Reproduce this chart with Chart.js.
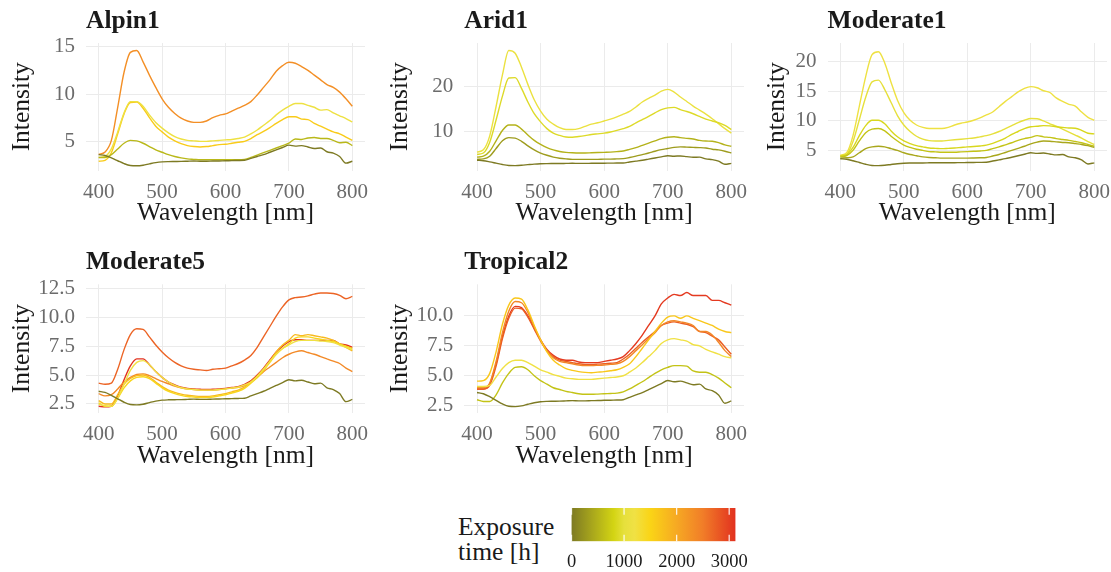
<!DOCTYPE html>
<html>
<head>
<meta charset="utf-8">
<title>Spectra by exposure time</title>
<script src="https://cdn.jsdelivr.net/npm/chart.js@4.4.1/dist/chart.umd.min.js"></script>
<style>
  html, body { margin: 0; padding: 0; background: #fff; }
  body { position: relative; width: 1111px; height: 572px; overflow: hidden; }
  canvas { position: absolute; }
  #legendTitle {
    position: absolute; left: 458px; top: 514px;
    font: 25.5px "Liberation Serif", serif; line-height: 25px; color: #1a1a1a;
  }
</style>
</head>
<body>
<div id="legendTitle">Exposure<br>time [h]</div>
<script>
// wavelength grid shared by every spectrum (nm)
const wavelengths = [400, 410, 420, 430, 440, 450, 460, 470, 480, 490,
  500, 510, 520, 530, 540, 550, 560, 570, 580, 590,
  600, 610, 620, 630, 640, 650, 660, 670, 680, 690,
  700, 710, 720, 730, 740, 750, 760, 770, 780, 790, 800];
const wavelengthTicks = [400, 500, 600, 700, 800];

// unexposed spectrum (0 h), identical in every panel
const baseline = [3.6, 3.5, 3.25, 2.95, 2.65, 2.45, 2.42, 2.48, 2.62, 2.75,
  2.83, 2.86, 2.87, 2.88, 2.9, 2.92, 2.9, 2.9, 2.92, 2.93,
  2.95, 2.96, 2.98, 3.0, 3.2, 3.4, 3.6, 3.85, 4.1, 4.35,
  4.6, 4.5, 4.55, 4.4, 4.25, 4.3, 3.9, 3.75, 3.4, 2.7, 2.9];

// Alpin1
const alpin1Hours = [0, 550, 1150, 1600, 2300];
const alpin1Curves = [baseline,
  [3.3, 3.3, 3.6, 4.2, 4.8, 5.1, 5.05, 4.8, 4.45, 4.1,
   3.85, 3.6, 3.4, 3.25, 3.15, 3.1, 3.05, 3.05, 3.05, 3.05,
   3.05, 3.05, 3.05, 3.1, 3.3, 3.55, 3.8, 4.05, 4.3, 4.55,
   4.8, 5.25, 5.2, 5.35, 5.4, 5.3, 5.3, 5.1, 4.85, 4.9, 4.55],
  [3.3, 3.4, 4.2, 6.0, 8.0, 9.2, 9.2, 8.7, 7.8, 7.0,
   6.4, 5.9, 5.5, 5.25, 5.1, 5.05, 5.0, 5.0, 5.05, 5.1,
   5.15, 5.2, 5.3, 5.45, 5.8, 6.2, 6.7, 7.2, 7.8, 8.3,
   8.7, 9.0, 9.0, 8.8, 8.6, 8.3, 8.35, 8.0, 7.7, 7.4, 7.05],
  [2.9, 3.0, 3.8, 5.8, 7.9, 9.1, 9.15, 8.5, 7.5, 6.6,
   6.0, 5.45, 5.05, 4.75, 4.55, 4.45, 4.4, 4.45, 4.55, 4.65,
   4.7, 4.8, 4.9, 5.0, 5.3, 5.7, 6.05, 6.45, 6.9, 7.3,
   7.6, 7.6, 7.35, 7.3, 6.9, 6.6, 6.3, 6.0, 5.8, 5.45, 5.1],
  [3.62, 3.87, 5.1, 8.6, 12.3, 14.4, 14.6, 13.4, 12.0, 10.7,
   9.5, 8.6, 7.95, 7.45, 7.15, 7.0, 7.0, 7.15, 7.5, 7.75,
   7.9, 8.2, 8.5, 8.8, 9.2, 9.9, 10.7, 11.5, 12.4, 13.0,
   13.35, 13.25, 12.9, 12.5, 12.0, 11.5, 11.0, 10.7, 10.2, 9.5, 8.7]];

// Arid1
const arid1Hours = [0, 300, 500, 900, 1100];
const arid1Curves = [baseline,
  [3.8, 3.9, 4.5, 6.2, 7.9, 8.6, 8.5, 7.8, 6.8, 5.9,
   5.2, 4.7, 4.3, 4.05, 3.9, 3.8, 3.8, 3.8, 3.8, 3.8,
   3.85, 3.85, 3.9, 3.95, 4.2, 4.5, 4.85, 5.2, 5.6, 5.95,
   6.2, 6.45, 6.55, 6.5, 6.45, 6.4, 6.3, 6.05, 5.9, 5.6, 5.2],
  [4.3, 4.5, 5.6, 7.9, 10.2, 11.4, 11.4, 10.5, 9.2, 8.0,
   7.1, 6.4, 5.9, 5.55, 5.35, 5.25, 5.2, 5.2, 5.25, 5.3,
   5.35, 5.4, 5.5, 5.65, 6.0, 6.4, 6.9, 7.4, 7.9, 8.4,
   8.7, 8.8, 8.6, 8.45, 8.3, 8.0, 7.85, 7.8, 7.5, 7.0, 6.7],
  [4.9, 5.2, 7.6, 12.5, 17.8, 21.8, 21.9, 19.5, 16.5, 13.9,
   12.1, 10.6, 9.6, 9.1, 8.75, 8.7, 8.85, 9.05, 9.3, 9.45,
   9.6, 9.85, 10.2, 10.6, 11.1, 11.9, 12.6, 13.3, 14.1, 14.8,
   15.2, 15.3, 14.8, 14.4, 13.9, 13.3, 12.7, 12.3, 11.9, 11.3, 10.4],
  [5.4, 5.9, 9.0, 15.5, 22.5, 27.9, 27.3, 24.2, 20.4, 17.0,
   14.5, 12.7, 11.6, 10.8, 10.4, 10.4, 10.6, 11.1, 11.6, 11.9,
   12.3, 12.7, 13.2, 13.8, 14.4, 15.4, 16.5, 17.3, 18.0, 18.9,
   19.3, 18.7, 17.6, 16.6, 15.6, 14.7, 13.8, 12.8, 11.7, 10.6, 9.6]];

// Moderate1
const moderate1Hours = [0, 400, 650, 850, 1000, 1150];
const moderate1Curves = [baseline,
  [3.7, 3.75, 3.9, 4.6, 5.3, 5.6, 5.7, 5.6, 5.3, 5.0,
   4.6, 4.3, 4.1, 3.9, 3.8, 3.75, 3.7, 3.7, 3.7, 3.7,
   3.7, 3.72, 3.75, 3.8, 4.05, 4.3, 4.65, 5.0, 5.35, 5.7,
   6.1, 6.4, 6.6, 6.55, 6.45, 6.35, 6.3, 6.15, 6.0, 5.8, 5.5],
  [3.9, 4.1, 5.0, 6.6, 8.0, 8.6, 8.7, 8.3, 7.4, 6.6,
   5.9, 5.5, 5.2, 5.0, 4.8, 4.75, 4.7, 4.7, 4.7, 4.75,
   4.8, 4.85, 4.9, 5.0, 5.3, 5.6, 5.95, 6.3, 6.7, 7.0,
   7.2, 7.5, 7.3, 7.2, 7.0, 6.85, 6.7, 6.5, 6.3, 6.0, 5.7],
  [4.1, 4.3, 5.5, 7.5, 9.2, 10.1, 10.1, 9.5, 8.3, 7.3,
   6.6, 6.15, 5.8, 5.6, 5.4, 5.35, 5.3, 5.35, 5.4, 5.5,
   5.6, 5.65, 5.75, 5.9, 6.2, 6.6, 7.1, 7.7, 8.2, 8.7,
   9.0, 9.1, 9.2, 9.15, 9.0, 8.9, 8.8, 8.75, 8.4, 7.9, 7.8],
  [4.0, 4.3, 6.5, 10.2, 14.0, 16.6, 16.9, 15.3, 13.1, 10.9,
   9.3, 8.2, 7.4, 6.9, 6.65, 6.6, 6.6, 6.7, 6.8, 6.9,
   7.0, 7.1, 7.3, 7.5, 7.8, 8.2, 8.7, 9.2, 9.7, 10.1,
   10.4, 10.35, 10.0, 9.5, 9.1, 8.6, 8.1, 7.6, 7.1, 6.5, 6.0],
  [4.2, 4.6, 7.5, 12.5, 17.5, 21.2, 21.7, 19.8, 16.5, 13.5,
   11.4, 10.1, 9.3, 8.9, 8.7, 8.7, 8.7, 8.9, 9.3, 9.6,
   9.8, 10.1, 10.5, 11.0, 11.5, 12.4, 13.3, 14.1, 14.9, 15.5,
   15.8, 15.6, 15.1, 14.8, 13.9, 13.3, 12.8, 12.5, 11.5, 10.6, 10.1]];

// Moderate5
const moderate5Hours = [0, 1200, 1450, 1800, 2350, 2700, 3100];
const moderate5Curves = [baseline,
  [2.5, 2.35, 2.3, 3.0, 4.2, 5.4, 6.1, 6.25, 5.9, 5.3,
   4.8, 4.4, 4.1, 3.9, 3.8, 3.75, 3.7, 3.7, 3.7, 3.75,
   3.8, 3.88, 3.95, 4.15, 4.4, 4.9, 5.5, 6.2, 6.8, 7.3,
   7.6, 7.9, 8.0, 8.0, 8.0, 7.95, 7.9, 7.8, 7.6, 7.4, 7.2],
  [2.6, 2.3, 2.3, 3.0, 3.9, 4.5, 4.8, 4.85, 4.7, 4.3,
   3.9, 3.6, 3.4, 3.25, 3.15, 3.1, 3.05, 3.05, 3.1, 3.2,
   3.3, 3.45, 3.6, 3.85, 4.3, 4.8, 5.4, 6.1, 6.8, 7.3,
   7.7, 8.2, 8.3, 8.3, 8.2, 8.1, 8.0, 7.9, 7.7, 7.5, 7.3],
  [2.8, 2.5, 2.5, 3.3, 4.2, 4.7, 4.95, 5.0, 4.8, 4.4,
   4.0, 3.7, 3.5, 3.35, 3.25, 3.2, 3.15, 3.15, 3.2, 3.3,
   3.4, 3.55, 3.7, 3.95, 4.4, 4.9, 5.5, 6.2, 7.0, 7.6,
   8.0, 8.5, 8.4, 8.5, 8.4, 8.3, 8.2, 8.0, 7.7, 7.4, 7.1],
  [3.4, 3.2, 3.3, 3.8, 4.4, 4.8, 5.05, 5.1, 4.95, 4.7,
   4.45, 4.25, 4.05, 3.9, 3.8, 3.75, 3.7, 3.7, 3.7, 3.75,
   3.8, 3.88, 3.95, 4.1, 4.4, 4.8, 5.3, 5.7, 6.1, 6.5,
   6.8, 7.0, 7.1, 6.95, 6.8, 6.6, 6.4, 6.2, 6.0, 5.6, 5.3],
  [4.3, 4.2, 4.3, 5.5, 7.2, 8.5, 9.0, 8.95, 8.3, 7.6,
   7.0, 6.5, 6.1, 5.8, 5.6, 5.5, 5.45, 5.4, 5.5, 5.55,
   5.6, 5.8, 6.0, 6.3, 6.7, 7.4, 8.3, 9.2, 10.1, 10.9,
   11.5, 11.7, 11.75, 11.85, 12.0, 12.1, 12.1, 12.05, 11.9, 11.6, 11.8],
  [2.3, 2.25, 2.3, 3.2, 4.6, 5.8, 6.4, 6.4, 5.9, 5.3,
   4.8, 4.4, 4.15, 3.95, 3.85, 3.8, 3.77, 3.75, 3.78, 3.8,
   3.85, 3.92, 4.0, 4.2, 4.5, 5.0, 5.6, 6.3, 7.0, 7.5,
   7.9, 8.05, 8.05, 8.0, 8.0, 8.0, 8.0, 8.0, 7.7, 7.6, 7.4]];

// Tropical2
const tropical2Hours = [0, 650, 1200, 1650, 2400, 2750, 3050];
const tropical2Curves = [baseline,
  [3.0, 2.85, 2.85, 3.4, 4.4, 5.2, 5.7, 5.75, 5.5, 5.0,
   4.6, 4.3, 4.0, 3.85, 3.7, 3.6, 3.5, 3.45, 3.45, 3.47,
   3.5, 3.52, 3.55, 3.65, 3.9, 4.2, 4.5, 4.85, 5.2, 5.5,
   5.7, 5.85, 5.85, 5.8, 5.4, 5.3, 5.3, 5.1, 4.8, 4.4, 4.0],
  [4.1, 4.1, 4.2, 4.9, 5.6, 6.1, 6.3, 6.3, 6.1, 5.8,
   5.5, 5.3, 5.1, 4.95, 4.8, 4.75, 4.7, 4.7, 4.7, 4.75,
   4.8, 4.85, 4.9, 5.0, 5.3, 5.65, 6.1, 6.6, 7.1, 7.7,
   8.0, 8.1, 8.0, 7.9, 7.6, 7.5, 7.2, 7.0, 6.8, 6.6, 6.5],
  [4.55, 4.6, 5.2, 7.0, 9.3, 10.9, 11.5, 11.4, 10.5, 9.2,
   8.0, 7.0, 6.3, 5.9, 5.6, 5.45, 5.35, 5.28, 5.25, 5.3,
   5.35, 5.42, 5.5, 5.7, 6.0, 6.6, 7.3, 8.0, 8.7, 9.4,
   9.9, 10.0, 9.8, 10.0, 9.8, 9.6, 9.4, 9.2, 8.9, 8.7, 8.6],
  [4.0, 4.0, 4.4, 6.2, 8.6, 10.4, 11.2, 11.1, 10.3, 9.1,
   8.0, 7.1, 6.5, 6.2, 6.1, 6.0, 5.9, 5.85, 5.85, 5.87,
   5.9, 5.95, 6.0, 6.2, 6.6, 7.1, 7.6, 8.1, 8.6, 9.2,
   9.5, 9.6, 9.5, 9.4, 9.2, 8.7, 8.7, 8.4, 7.8, 7.1, 6.6],
  [3.9, 3.9, 4.2, 5.8, 8.1, 9.8, 10.65, 10.6, 9.9, 8.9,
   7.9, 7.1, 6.6, 6.3, 6.2, 6.1, 6.0, 5.95, 5.95, 5.97,
   6.0, 6.05, 6.1, 6.4, 6.8, 7.3, 7.8, 8.25, 8.7, 9.2,
   9.4, 9.5, 9.4, 9.3, 9.1, 8.7, 8.6, 8.3, 8.0, 7.4, 6.8],
  [3.9, 3.9, 4.3, 6.0, 8.3, 10.0, 10.8, 10.7, 10.0, 9.0,
   8.0, 7.2, 6.7, 6.4, 6.3, 6.3, 6.15, 6.1, 6.1, 6.1,
   6.2, 6.3, 6.4, 6.6, 7.1, 7.7, 8.4, 9.2, 10.0, 11.0,
   11.5, 11.8, 11.7, 11.95, 11.7, 11.7, 11.7, 11.3, 11.3, 11.1, 10.9]];

// colour scale for exposure time
const exposureStops = [0, 400, 800, 1000, 1200, 1500, 2000, 2500, 3120];
const exposureColors = ['#7d7a23', '#a9a71c', '#d3d413', '#e6e03c', '#f0e144',
  '#fad416', '#f6a923', '#f17d28', '#e2311f'];
const exposureTicks = [0, 1000, 2000, 3000];

const serif = "'Liberation Serif', serif";
const tickFont = { family: serif, size: 21 };
const titleFont = { family: serif, size: 25.5 };
const tickGrey = '#6b6b6b';
const ink = '#1a1a1a';

function hexToRgb(h) {
  const n = parseInt(h.slice(1), 16);
  return [n >> 16, (n >> 8) & 255, n & 255];
}

function exposureColor(hours) {
  for (let i = 1; i < exposureStops.length; i++) {
    if (hours <= exposureStops[i]) {
      const t = (hours - exposureStops[i - 1]) / (exposureStops[i] - exposureStops[i - 1]);
      const a = hexToRgb(exposureColors[i - 1]);
      const b = hexToRgb(exposureColors[i]);
      return `rgb(${a.map((c, k) => Math.round(c + (b[k] - c) * t)).join(',')})`;
    }
  }
  return exposureColors[exposureColors.length - 1];
}

// grid of panels: canvas origin and plot area edges in page pixels
const cols = [
  { left: 7, plotL: 86, plotR: 365 },
  { left: 385, plotL: 464.3, plotR: 743.7 },
  { left: 762, plotL: 827.6, plotR: 1106.7 }
];
const rows = [
  { top: 0, plotT: 43, plotB: 170.5, bottom: 240 },
  { top: 241, plotT: 284.3, plotB: 413, bottom: 483 }
];

const panels = [
  { title: 'Alpin1', col: 0, row: 0, hours: alpin1Hours, curves: alpin1Curves, yMin: 1.92, yMax: 15.39, yTicks: [5, 10, 15], dec: 0 },
  { title: 'Arid1', col: 1, row: 0, hours: arid1Hours, curves: arid1Curves, yMin: 1.33, yMax: 29.56, yTicks: [10, 20], dec: 0 },
  { title: 'Moderate1', col: 2, row: 0, hours: moderate1Hours, curves: moderate1Curves, yMin: 1.6, yMax: 23.18, yTicks: [5, 10, 15, 20], dec: 0 },
  { title: 'Moderate5', col: 0, row: 1, hours: moderate5Hours, curves: moderate5Curves, yMin: 1.72, yMax: 12.85, yTicks: [2.5, 5, 7.5, 10, 12.5], dec: 1 },
  { title: 'Tropical2', col: 1, row: 1, hours: tropical2Hours, curves: tropical2Curves, yMin: 1.89, yMax: 12.64, yTicks: [2.5, 5, 7.5, 10], dec: 1 }
];

// bold facet title above the left edge of the plot area
const panelTitle = {
  id: 'panelTitle',
  afterDraw(chart, args, opts) {
    const { ctx, chartArea } = chart;
    ctx.save();
    ctx.font = `bold 25.5px ${serif}`;
    ctx.fillStyle = ink;
    ctx.textBaseline = 'alphabetic';
    ctx.textAlign = 'left';
    ctx.fillText(opts.text, chartArea.left, chartArea.top - 15);
    ctx.restore();
  }
};

function addCanvas(left, top, width, height) {
  const canvas = document.createElement('canvas');
  canvas.width = width;
  canvas.height = height;
  canvas.style.left = left + 'px';
  canvas.style.top = top + 'px';
  canvas.style.width = width + 'px';
  canvas.style.height = height + 'px';
  document.body.appendChild(canvas);
  return canvas;
}

function makePanel(p) {
  const col = cols[p.col];
  const row = rows[p.row];
  const canvas = addCanvas(col.left, row.top, Math.ceil(col.plotR + 20 - col.left), row.bottom - row.top);

  const datasets = p.curves.map((vals, i) => ({
    data: wavelengths.map((x, k) => ({ x: x, y: vals[k] })),
    borderColor: exposureColor(p.hours[i]),
    borderWidth: 1.4,
    pointRadius: 0,
    cubicInterpolationMode: 'monotone',
    fill: false
  }));

  new Chart(canvas, {
    type: 'line',
    data: { datasets },
    plugins: [panelTitle],
    options: {
      responsive: false,
      animation: false,
      devicePixelRatio: 1,
      events: [],
      layout: { padding: { top: row.plotT - row.top, right: 20, left: 0, bottom: 0 } },
      plugins: {
        legend: { display: false },
        tooltip: { enabled: false },
        panelTitle: { text: p.title }
      },
      scales: {
        x: {
          type: 'linear',
          min: 380,
          max: 820,
          afterBuildTicks: s => { s.ticks = wavelengthTicks.map(v => ({ value: v })); },
          afterFit: s => { s.height = row.bottom - row.plotB; },
          grid: { color: '#ebebeb', lineWidth: 1, drawTicks: false },
          border: { display: false },
          ticks: { padding: 9, color: tickGrey, font: tickFont, maxRotation: 0, autoSkip: false, callback: v => String(v) },
          title: { display: true, text: 'Wavelength [nm]', color: ink, font: titleFont, padding: { top: 0, bottom: 11 } }
        },
        y: {
          type: 'linear',
          min: p.yMin,
          max: p.yMax,
          afterBuildTicks: s => { s.ticks = p.yTicks.map(v => ({ value: v })); },
          afterFit: s => { s.width = col.plotL - col.left; },
          grid: { color: '#ebebeb', lineWidth: 1, drawTicks: false },
          border: { display: false },
          ticks: { padding: 11, color: tickGrey, font: tickFont, autoSkip: false, callback: v => v.toFixed(p.dec) },
          title: { display: true, text: 'Intensity', color: ink, font: titleFont, padding: { top: 0, bottom: 0 } }
        }
      }
    }
  });
}

panels.forEach(makePanel);

// colour bar legend
const barMax = 3120;
const barBox = { left: 550, top: 495, width: 210, height: 77, plotL: 571.5, plotR: 735.5, plotT: 508, plotB: 541.3 };

const barTicks = {
  id: 'barTicks',
  afterDatasetsDraw(chart) {
    const { ctx, chartArea, scales } = chart;
    const len = (chartArea.bottom - chartArea.top) / 5;
    ctx.save();
    ctx.strokeStyle = 'rgba(255,255,255,0.85)';
    ctx.lineWidth = 1.3;
    exposureTicks.forEach(v => {
      const px = scales.x.getPixelForValue(v);
      ctx.beginPath();
      ctx.moveTo(px, chartArea.top);
      ctx.lineTo(px, chartArea.top + len);
      ctx.moveTo(px, chartArea.bottom - len);
      ctx.lineTo(px, chartArea.bottom);
      ctx.stroke();
    });
    ctx.restore();
  }
};

const barCanvas = addCanvas(barBox.left, barBox.top, barBox.width, barBox.height);
new Chart(barCanvas, {
  type: 'bar',
  data: {
    labels: ['Exposure time [h]'],
    datasets: [{
      data: [[0, barMax]],
      borderWidth: 0,
      barPercentage: 1,
      categoryPercentage: 1,
      backgroundColor: c => {
        const { chart } = c;
        if (!chart.chartArea) return exposureColors[0];
        const x = chart.scales.x;
        const g = chart.ctx.createLinearGradient(x.getPixelForValue(0), 0, x.getPixelForValue(barMax), 0);
        exposureStops.forEach((s, i) => g.addColorStop(s / barMax, exposureColors[i]));
        return g;
      }
    }]
  },
  plugins: [barTicks],
  options: {
    indexAxis: 'y',
    responsive: false,
    animation: false,
    devicePixelRatio: 1,
    events: [],
    layout: {
      padding: {
        left: barBox.plotL - barBox.left,
        right: barBox.left + barBox.width - barBox.plotR,
        top: barBox.plotT - barBox.top,
        bottom: 0
      }
    },
    plugins: { legend: { display: false }, tooltip: { enabled: false } },
    scales: {
      x: {
        type: 'linear',
        min: 0,
        max: barMax,
        afterBuildTicks: s => { s.ticks = exposureTicks.map(v => ({ value: v })); },
        afterFit: s => { s.height = barBox.top + barBox.height - barBox.plotB; },
        grid: { display: false },
        border: { display: false },
        ticks: { padding: 2, color: ink, font: { family: serif, size: 18.5 }, maxRotation: 0, autoSkip: false, callback: v => String(v) }
      },
      y: { display: false }
    }
  }
});
</script>
</body>
</html>
